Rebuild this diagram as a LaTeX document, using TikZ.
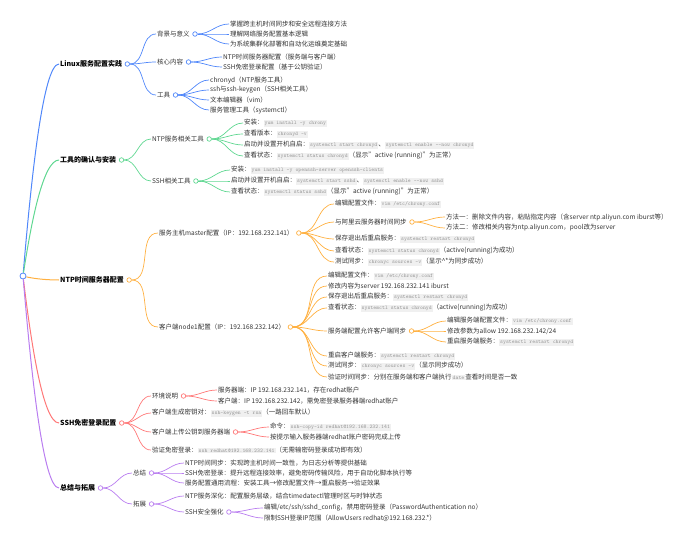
\documentclass[tikz,border=0pt]{standalone}
\usepackage{fontspec}
\setmainfont{Noto Sans CJK SC}
\usepackage{tikz}
\usetikzlibrary{positioning}
\usepackage{xcolor}
\definecolor{mmblue}{RGB}{80,135,250}
\definecolor{mmgreen}{RGB}{95,215,145}
\definecolor{mmorange}{RGB}{255,176,64}
\definecolor{mmred}{RGB}{255,120,120}
\definecolor{mmpurple}{RGB}{185,125,240}
\definecolor{mmtext}{RGB}{51,51,51}
\definecolor{codebg}{RGB}{240,240,240}
\definecolor{codefg}{RGB}{150,150,150}
\newcommand{\code}[1]{{\setlength{\fboxsep}{1pt}\colorbox{codebg}{\color{codefg}\fontsize{5.5}{6}\selectfont\ttfamily #1}}}
\tikzstyle{topic} = [font=\fontsize{7}{8}\selectfont\bfseries, text=black, inner sep=1pt, anchor=west]
\tikzstyle{leaf} = [font=\fontsize{6.5}{7.5}\selectfont, text=mmtext, inner sep=1pt, anchor=west]
\tikzstyle{knob} = [circle, draw, fill=white, inner sep=0pt, minimum size=4.5pt, line width=0.7pt]
\tikzstyle{trunk} = [line width=1pt]
\tikzstyle{twig} = [line width=0.7pt]

\begin{document}
\begin{tikzpicture}[x=1pt,y=-1pt]
\useasboundingbox (0,0) rectangle (690,540);

% Root
\node[knob, draw=mmblue, minimum size=6pt, line width=0.8pt] (root) at (23,276) {};

% Linux
\node[topic] (t1) at (59,64) {Linux服务配置实践};
\node[knob, draw=mmblue, right=1.5pt of t1] (k1) {};
\node[leaf] (t1a) at (156,34) {背景与意义};
\node[knob, draw=mmblue, right=1.5pt of t1a] (k1a) {};
\node[leaf] (t1a1) at (229,24) {掌握跨主机时间同步和安全远程连接方法};
\node[leaf] (t1a2) at (229,34) {理解网络服务配置基本逻辑};
\node[leaf] (t1a3) at (229,44) {为系统集群化部署和自动化运维奠定基础};
\node[leaf] (t1b) at (156,62) {核心内容};
\node[knob, draw=mmblue, right=1.5pt of t1b] (k1b) {};
\node[leaf] (t1b1) at (222,57) {NTP时间服务器配置（服务端与客户端）};
\node[leaf] (t1b2) at (222,67) {SSH免密登录配置（基于公钥验证）};
\node[leaf] (t1c) at (156,95) {工具};
\node[knob, draw=mmblue, right=1.5pt of t1c] (k1c) {};
\node[leaf] (t1c1) at (209,80) {chronyd（NTP服务工具）};
\node[leaf] (t1c2) at (209,90) {ssh与ssh-keygen（SSH相关工具）};
\node[leaf] (t1c3) at (209,100) {文本编辑器（vim）};
\node[leaf] (t1c4) at (209,110) {服务管理工具（systemctl）};

% Tools
\node[topic] (t2) at (59,160) {工具的确认与安装};
\node[knob, draw=mmgreen, right=1.5pt of t2] (k2) {};
\node[leaf] (t2a) at (151,139) {NTP服务相关工具};
\node[knob, draw=mmgreen, right=1.5pt of t2a] (k2a) {};
\node[leaf] (t2a1) at (243,123) {安装：\code{yum install -y chrony}};
\node[leaf] (t2a2) at (243,134) {查看版本：\code{chronyd -v}};
\node[leaf] (t2a3) at (243,145) {启动并设置开机自启：\code{systemctl start chronyd}、\code{systemctl enable -{}-now chronyd}};
\node[leaf] (t2a4) at (243,156) {查看状态：\code{systemctl status chronyd}（显示"active (running)"为正常）};
\node[leaf] (t2b) at (151,181) {SSH相关工具};
\node[knob, draw=mmgreen, right=1.5pt of t2b] (k2b) {};
\node[leaf] (t2b1) at (230,170) {安装：\code{yum install -y openssh-server openssh-clients}};
\node[leaf] (t2b2) at (230,181) {启动并设置开机自启：\code{systemctl start sshd}、\code{systemctl enable -{}-now sshd}};
\node[leaf] (t2b3) at (230,192) {查看状态：\code{systemctl status sshd}（显示"active (running)"为正常）};

% NTP
\node[topic] (t3) at (59,280) {NTP时间服务器配置};
\node[knob, draw=mmorange, right=1.5pt of t3] (k3) {};
\node[leaf] (t3a) at (158,233) {服务主机master配置（IP：192.168.232.141）};
\node[knob, draw=mmorange, right=1.5pt of t3a] (k3a) {};
\node[leaf] (t3a1) at (334,204) {编辑配置文件：\code{vim /etc/chrony.conf}};
\node[leaf] (t3a2) at (334,222) {与阿里云服务器时间同步};
\node[knob, draw=mmorange, right=1.5pt of t3a2] (k3a2) {};
\node[leaf] (t3a2a) at (445,217) {方法一：删除文件内容，粘贴指定内容（含server ntp.aliyun.com iburst等）};
\node[leaf] (t3a2b) at (445,228) {方法二：修改相关内容为ntp.aliyun.com，pool改为server};
\node[leaf] (t3a3) at (334,239) {保存退出后重启服务：\code{systemctl restart chronyd}};
\node[leaf] (t3a4) at (334,251) {查看状态：\code{systemctl status chronyd}（active(running)为成功）};
\node[leaf] (t3a5) at (334,262) {测试同步：\code{chronyc sources -v}（显示\textasciicircum*为同步成功）};
\node[leaf] (t3b) at (158,327) {客户端node1配置（IP：192.168.232.142）};
\node[knob, draw=mmorange, right=1.5pt of t3b] (k3b) {};
\node[leaf] (t3b1) at (327,276) {编辑配置文件：\code{vim /etc/chrony.conf}};
\node[leaf] (t3b2) at (327,286) {修改内容为server 192.168.232.141 iburst};
\node[leaf] (t3b3) at (327,297) {保存退出后重启服务：\code{systemctl restart chronyd}};
\node[leaf] (t3b4) at (327,308) {查看状态：\code{systemctl status chronyd}（active(running)为成功）};
\node[leaf] (t3b5) at (327,331) {服务端配置允许客户端同步};
\node[knob, draw=mmorange, right=1.5pt of t3b5] (k3b5) {};
\node[leaf] (t3b5a) at (446,321) {编辑服务端配置文件：\code{vim /etc/chrony.conf}};
\node[leaf] (t3b5b) at (446,331) {修改参数为allow 192.168.232.142/24};
\node[leaf] (t3b5c) at (446,342) {重启服务端服务：\code{systemctl restart chronyd}};
\node[leaf] (t3b6) at (327,356) {重启客户端服务：\code{systemctl restart chronyd}};
\node[leaf] (t3b7) at (327,366) {测试同步：\code{chronyc sources -v}（显示同步成功）};
\node[leaf] (t3b8) at (327,377) {验证时间同步：分别在服务端和客户端执行\code{date}查看时间是否一致};

% SSH
\node[topic] (t4) at (59,423) {SSH免密登录配置};
\node[knob, draw=mmred, right=1.5pt of t4] (k4) {};
\node[leaf] (t4a) at (151,396) {环境说明};
\node[knob, draw=mmred, right=1.5pt of t4a] (k4a) {};
\node[leaf] (t4a1) at (217,390) {服务器端：IP 192.168.232.141，存在redhat账户};
\node[leaf] (t4a2) at (217,401) {客户端：IP 192.168.232.142，需免密登录服务器端redhat账户};
\node[leaf] (t4b) at (151,413) {客户端生成密钥对：\code{ssh-keygen -t rsa}（一路回车默认）};
\node[leaf] (t4c) at (151,432) {客户端上传公钥到服务器端};
\node[knob, draw=mmred, right=1.5pt of t4c] (k4c) {};
\node[leaf] (t4c1) at (269,427) {命令：\code{ssh-copy-id redhat@192.168.232.141}};
\node[leaf] (t4c2) at (269,437) {按提示输入服务器端redhat账户密码完成上传};
\node[leaf] (t4d) at (151,450) {验证免密登录：\code{ssh redhat@192.168.232.141}（无需输密码登录成功即有效）};

% Summary
\node[topic] (t5) at (59,488) {总结与拓展};
\node[knob, draw=mmpurple, right=1.5pt of t5] (k5) {};
\node[leaf] (t5a) at (132,473) {总结};
\node[knob, draw=mmpurple, right=1.5pt of t5a] (k5a) {};
\node[leaf] (t5a1) at (184,463) {NTP时间同步：实现跨主机时间一致性，为日志分析等提供基础};
\node[leaf] (t5a2) at (184,473) {SSH免密登录：提升远程连接效率，避免密码传输风险，用于自动化脚本执行等};
\node[leaf] (t5a3) at (184,483) {服务配置通用流程：安装工具→修改配置文件→重启服务→验证效果};
\node[leaf] (t5b) at (132,504) {拓展};
\node[knob, draw=mmpurple, right=1.5pt of t5b] (k5b) {};
\node[leaf] (t5b1) at (184,496) {NTP服务深化：配置服务层级，结合timedatectl管理时区与时钟状态};
\node[leaf] (t5b2) at (184,512) {SSH安全强化};
\node[knob, draw=mmpurple, right=1.5pt of t5b2] (k5b2) {};
\node[leaf] (t5b2a) at (263,508) {编辑/etc/ssh/sshd\_config，禁用密码登录（PasswordAuthentication no）};
\node[leaf] (t5b2b) at (263,518) {限制SSH登录IP范围（AllowUsers redhat@192.168.232.*）};

% root branches
\draw[trunk, mmblue] (root) .. controls (31,181) and (43,64) .. (t1.west);
\draw[trunk, mmgreen] (root) .. controls (31,224) and (43,160) .. (t2.west);
\draw[trunk, mmorange] (root) .. controls (31,278) and (43,280) .. (t3.west);
\draw[trunk, mmred] (root) .. controls (31,342) and (43,423) .. (t4.west);
\draw[trunk, mmpurple] (root) .. controls (31,371) and (43,488) .. (t5.west);

% blue
\draw[twig, mmblue] (k1.east) to[out=0,in=180] (t1a.west);
\draw[twig, mmblue] (k1.east) to[out=0,in=180] (t1b.west);
\draw[twig, mmblue] (k1.east) to[out=0,in=180] (t1c.west);
\draw[twig, mmblue] (k1a.east) to[out=0,in=180] (t1a1.west);
\draw[twig, mmblue] (k1a.east) to[out=0,in=180] (t1a2.west);
\draw[twig, mmblue] (k1a.east) to[out=0,in=180] (t1a3.west);
\draw[twig, mmblue] (k1b.east) to[out=0,in=180] (t1b1.west);
\draw[twig, mmblue] (k1b.east) to[out=0,in=180] (t1b2.west);
\draw[twig, mmblue] (k1c.east) to[out=0,in=180] (t1c1.west);
\draw[twig, mmblue] (k1c.east) to[out=0,in=180] (t1c2.west);
\draw[twig, mmblue] (k1c.east) to[out=0,in=180] (t1c3.west);
\draw[twig, mmblue] (k1c.east) to[out=0,in=180] (t1c4.west);

% green
\draw[twig, mmgreen] (k2.east) to[out=0,in=180] (t2a.west);
\draw[twig, mmgreen] (k2.east) to[out=0,in=180] (t2b.west);
\draw[twig, mmgreen] (k2a.east) to[out=0,in=180] (t2a1.west);
\draw[twig, mmgreen] (k2a.east) to[out=0,in=180] (t2a2.west);
\draw[twig, mmgreen] (k2a.east) to[out=0,in=180] (t2a3.west);
\draw[twig, mmgreen] (k2a.east) to[out=0,in=180] (t2a4.west);
\draw[twig, mmgreen] (k2b.east) to[out=0,in=180] (t2b1.west);
\draw[twig, mmgreen] (k2b.east) to[out=0,in=180] (t2b2.west);
\draw[twig, mmgreen] (k2b.east) to[out=0,in=180] (t2b3.west);

% orange
\draw[twig, mmorange] (k3.east) to[out=0,in=180] (t3a.west);
\draw[twig, mmorange] (k3.east) to[out=0,in=180] (t3b.west);
\draw[twig, mmorange] (k3a.east) to[out=0,in=180] (t3a1.west);
\draw[twig, mmorange] (k3a.east) to[out=0,in=180] (t3a2.west);
\draw[twig, mmorange] (k3a.east) to[out=0,in=180] (t3a3.west);
\draw[twig, mmorange] (k3a.east) to[out=0,in=180] (t3a4.west);
\draw[twig, mmorange] (k3a.east) to[out=0,in=180] (t3a5.west);
\draw[twig, mmorange] (k3a2.east) to[out=0,in=180] (t3a2a.west);
\draw[twig, mmorange] (k3a2.east) to[out=0,in=180] (t3a2b.west);
\draw[twig, mmorange] (k3b.east) to[out=0,in=180] (t3b1.west);
\draw[twig, mmorange] (k3b.east) to[out=0,in=180] (t3b2.west);
\draw[twig, mmorange] (k3b.east) to[out=0,in=180] (t3b3.west);
\draw[twig, mmorange] (k3b.east) to[out=0,in=180] (t3b4.west);
\draw[twig, mmorange] (k3b.east) to[out=0,in=180] (t3b5.west);
\draw[twig, mmorange] (k3b.east) to[out=0,in=180] (t3b6.west);
\draw[twig, mmorange] (k3b.east) to[out=0,in=180] (t3b7.west);
\draw[twig, mmorange] (k3b.east) to[out=0,in=180] (t3b8.west);
\draw[twig, mmorange] (k3b5.east) to[out=0,in=180] (t3b5a.west);
\draw[twig, mmorange] (k3b5.east) to[out=0,in=180] (t3b5b.west);
\draw[twig, mmorange] (k3b5.east) to[out=0,in=180] (t3b5c.west);

% red
\draw[twig, mmred] (k4.east) to[out=0,in=180] (t4a.west);
\draw[twig, mmred] (k4.east) to[out=0,in=180] (t4b.west);
\draw[twig, mmred] (k4.east) to[out=0,in=180] (t4c.west);
\draw[twig, mmred] (k4.east) to[out=0,in=180] (t4d.west);
\draw[twig, mmred] (k4a.east) to[out=0,in=180] (t4a1.west);
\draw[twig, mmred] (k4a.east) to[out=0,in=180] (t4a2.west);
\draw[twig, mmred] (k4c.east) to[out=0,in=180] (t4c1.west);
\draw[twig, mmred] (k4c.east) to[out=0,in=180] (t4c2.west);

% purple
\draw[twig, mmpurple] (k5.east) to[out=0,in=180] (t5a.west);
\draw[twig, mmpurple] (k5.east) to[out=0,in=180] (t5b.west);
\draw[twig, mmpurple] (k5a.east) to[out=0,in=180] (t5a1.west);
\draw[twig, mmpurple] (k5a.east) to[out=0,in=180] (t5a2.west);
\draw[twig, mmpurple] (k5a.east) to[out=0,in=180] (t5a3.west);
\draw[twig, mmpurple] (k5b.east) to[out=0,in=180] (t5b1.west);
\draw[twig, mmpurple] (k5b.east) to[out=0,in=180] (t5b2.west);
\draw[twig, mmpurple] (k5b2.east) to[out=0,in=180] (t5b2a.west);
\draw[twig, mmpurple] (k5b2.east) to[out=0,in=180] (t5b2b.west);
\end{tikzpicture}
\end{document}
